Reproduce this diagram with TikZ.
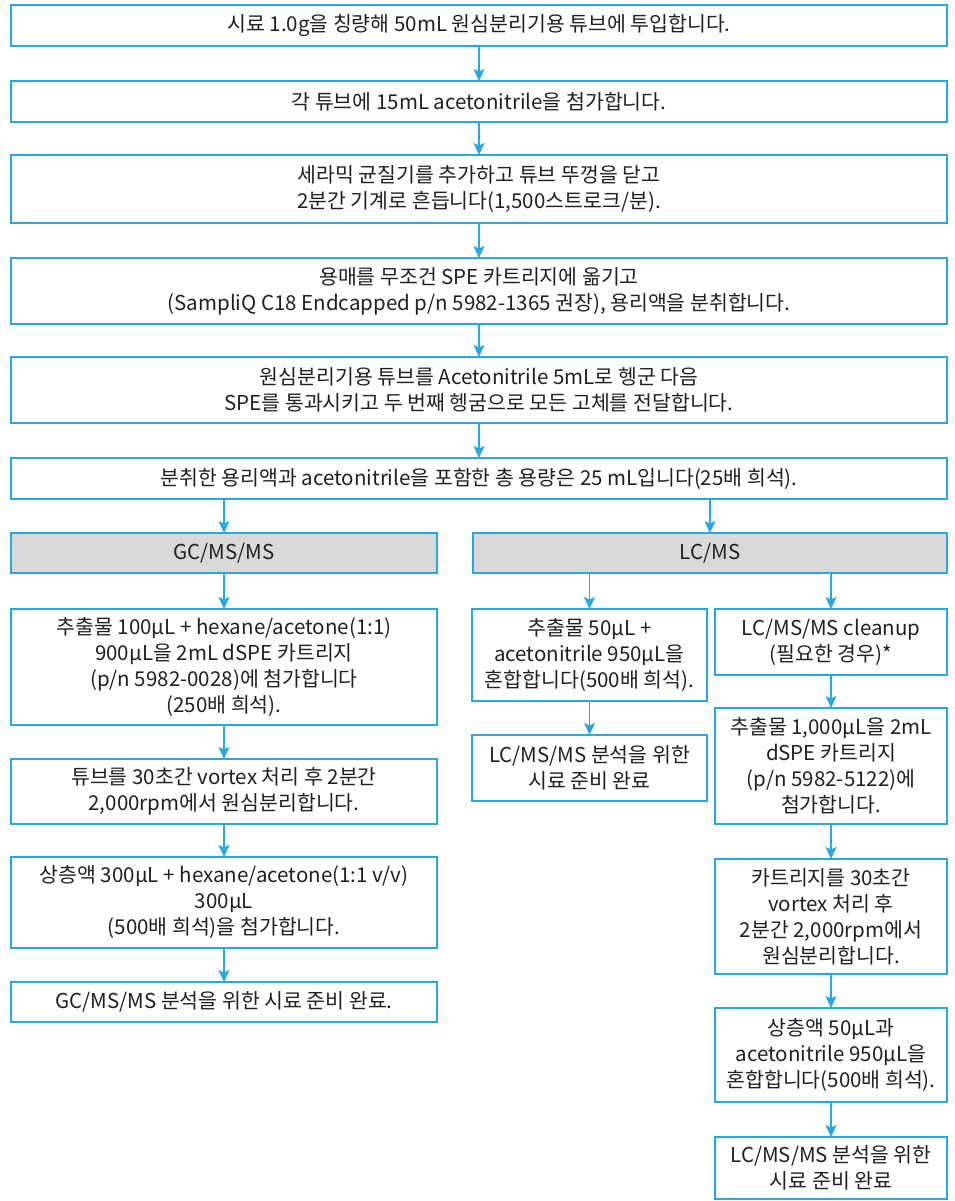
\documentclass[tikz,border=0pt]{standalone}
\usepackage{fontspec}
\setmainfont{Noto Sans CJK KR}
\usetikzlibrary{arrows.meta}
\definecolor{bluec}{HTML}{29A8E0}
\definecolor{grayf}{HTML}{D9D9D9}
\definecolor{txt}{HTML}{231F20}
\tikzset{
  box/.style={draw=bluec, line width=1.8pt, fill=white, inner sep=0pt, outer sep=0pt,
    align=center, text=txt, font=\fontsize{20.5}{26}\selectfont},
  head/.style={fill=grayf},
  arr/.style={draw=bluec, line width=1.5pt, -{Stealth[length=12pt,width=11pt,inset=2.5pt]}}
}
\newcommand{\mybox}[7][]{%
  \node[box,#1,minimum width={#4-#2},minimum height={#5-#3}] (#6) at ({(#2+#4)/2},{(#3+#5)/2}) {#7};}
\begin{document}
\begin{tikzpicture}[x=1pt,y=-1pt]
\useasboundingbox (0,0) rectangle (954,1201);
\mybox{11}{5}{947}{46}{b1}{시료 1.0g을 칭량해 50mL 원심분리기용 튜브에 투입합니다.}
\mybox{11}{81}{947}{122}{b2}{각 튜브에 15mL acetonitrile을 첨가합니다.}
\mybox{11}{155}{947}{223}{b3}{세라믹 균질기를 추가하고 튜브 뚜껑을 닫고\\2분간 기계로 흔듭니다(1,500스트로크/분).}
\mybox{11}{258}{947}{324}{b4}{용매를 무조건 SPE 카트리지에 옮기고\\(SampliQ C18 Endcapped p/n 5982-1365 권장), 용리액을 분취합니다.}
\mybox{11}{357}{947}{423}{b5}{원심분리기용 튜브를 Acetonitrile 5mL로 헹군 다음\\SPE를 통과시키고 두 번째 헹굼으로 모든 고체를 전달합니다.}
\mybox{11}{458}{947}{499}{b6}{분취한 용리액과 acetonitrile을 포함한 총 용량은 25 mL입니다(25배 희석).}
\mybox[head]{11}{533}{437}{573}{gc}{GC/MS/MS}
\mybox[head]{473}{533}{947}{573}{lc}{LC/MS}
\mybox{11}{609}{437}{725}{l1}{추출물 100μL + hexane/acetone(1:1)\\900μL을 2mL dSPE 카트리지\\(p/n 5982-0028)에 첨가합니다\\(250배 희석).}
\mybox{11}{759}{437}{824}{l2}{튜브를 30초간 vortex 처리 후 2분간\\2,000rpm에서 원심분리합니다.}
\mybox{11}{857}{437}{948}{l3}{상층액 300μL + hexane/acetone(1:1 v/v)\\300μL\\(500배 희석)을 첨가합니다.}
\mybox{11}{982}{437}{1022}{l4}{GC/MS/MS 분석을 위한 시료 준비 완료.}
\mybox{472}{609}{707}{701}{ra1}{추출물 50μL +\\acetonitrile 950μL을\\혼합합니다(500배 희석).}
\mybox{472}{735}{707}{801}{ra2}{LC/MS/MS 분석을 위한\\시료 준비 완료}
\mybox{715}{609}{947}{675}{rb1}{LC/MS/MS cleanup\\(필요한 경우)*}
\mybox{715}{708}{947}{824}{rb2}{추출물 1,000μL을 2mL\\dSPE 카트리지\\(p/n 5982-5122)에\\첨가합니다.}
\mybox{715}{859}{947}{974}{rb3}{카트리지를 30초간\\vortex 처리 후\\2분간 2,000rpm에서\\원심분리합니다.}
\mybox{715}{1008}{947}{1102}{rb4}{상층액 50μL과\\acetonitrile 950μL을\\혼합합니다(500배 희석).}
\mybox{715}{1137}{947}{1199}{rb5}{LC/MS/MS 분석을 위한\\시료 준비 완료}
\draw[arr] (b1) -- (b2);
\draw[arr] (b2) -- (b3);
\draw[arr] (b3) -- (b4);
\draw[arr] (b4) -- (b5);
\draw[arr] (b5) -- (b6);
\draw[arr] (b6.south -| gc.north) -- (gc.north);
\draw[arr] (b6.south -| lc.north) -- (lc.north);
\draw[arr] (gc) -- (l1);
\draw[arr] (l1) -- (l2);
\draw[arr] (l2) -- (l3);
\draw[arr] (l3) -- (l4);
\draw[arr] (lc.south -| ra1.north) -- (ra1.north);
\draw[arr] (lc.south -| rb1.north) -- (rb1.north);
\draw[arr] (ra1) -- (ra2);
\draw[arr] (rb1) -- (rb2);
\draw[arr] (rb2) -- (rb3);
\draw[arr] (rb3) -- (rb4);
\draw[arr] (rb4) -- (rb5);
\end{tikzpicture}
\end{document}
